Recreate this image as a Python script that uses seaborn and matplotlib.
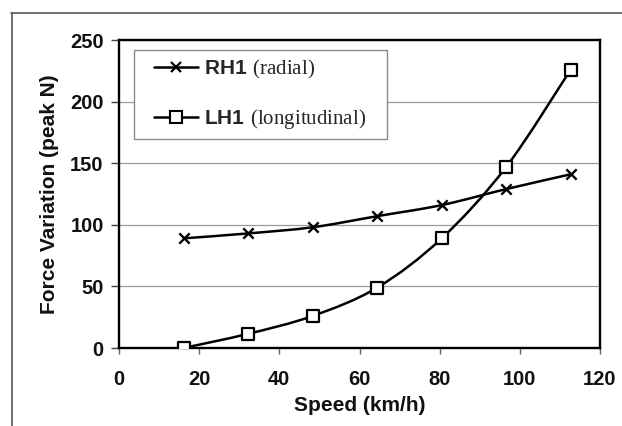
import numpy as np
import pandas as pd
import matplotlib
matplotlib.use("Agg")
import matplotlib.pyplot as plt
import seaborn as sns
from matplotlib.path import Path
from matplotlib.patches import PathPatch, Rectangle
from matplotlib.lines import Line2D

# Data
speed = [16.1, 32.2, 48.3, 64.4, 80.5, 96.6, 112.7]
rh1 = [89, 93, 98, 107, 116, 129, 141]
lh1 = [0, 11.5, 26, 49, 89, 147, 226]
xticks = [0, 20, 40, 60, 80, 100, 120]
yticks = [0, 50, 100, 150, 200, 250]
labels = [r'$\mathbf{RH1}\ \mathrm{(radial)}$', r'$\mathbf{LH1}\ \mathrm{(longitudinal)}$']

sns.set_style("ticks")
plt.rcParams['font.family'] = ['Liberation Sans', 'DejaVu Sans']
plt.rcParams['mathtext.fontset'] = 'custom'
plt.rcParams['mathtext.rm'] = 'Liberation Serif'
plt.rcParams['mathtext.bf'] = 'Liberation Sans:bold'

fig = plt.figure(figsize=(6.22, 4.26), dpi=100)
ax = fig.add_axes([119/622, 1-348/426, (600-119)/622, (348-40)/426])

df = pd.DataFrame({'speed': speed, 'rh1': rh1, 'lh1': lh1})


def smooth_path(xs, ys):
    # Excel-style smoothed line as cubic Bezier segments through the data points
    pts = np.column_stack([xs, ys]).astype(float)
    n = len(pts)
    verts = [pts[0]]
    codes = [Path.MOVETO]
    for i in range(n - 1):
        p0 = pts[i - 1] if i > 0 else pts[i]
        p1 = pts[i]
        p2 = pts[i + 1]
        p3 = pts[i + 2] if i + 2 < n else pts[i + 1]
        c1 = p1 + (p2 - p0) / 6.0
        c2 = p2 - (p3 - p1) / 6.0
        verts += [c1, c2, p2]
        codes += [Path.CURVE4] * 3
    return Path(np.array(verts), codes)


for col in ['rh1', 'lh1']:
    ax.add_patch(PathPatch(smooth_path(df['speed'], df[col]), fill=False,
                           edgecolor='black', lw=1.8, zorder=3))

sns.scatterplot(data=df, x='speed', y='rh1', marker='x', s=55, color='black',
                linewidth=1.7, ax=ax, zorder=4, legend=False)
sns.scatterplot(data=df, x='speed', y='lh1', marker='s', s=80, facecolor='white',
                edgecolor='black', linewidth=1.6, ax=ax, zorder=4, legend=False)

ax.set_xlim(0, 120)
ax.set_ylim(0, 250)
ax.set_xticks(xticks)
ax.set_yticks(yticks)
ax.yaxis.grid(True, color='#9a9a9a', lw=0.9)
ax.set_axisbelow(True)
for s in ax.spines.values():
    s.set_visible(True)
    s.set_color('black')
    s.set_linewidth(1.7)
ax.tick_params(axis='y', direction='out', length=6, width=1, color='#444',
               labelsize=14.5, pad=5)
ax.tick_params(axis='x', direction='out', length=4, width=1, color='#666',
               labelsize=14.5, pad=12)
for t in ax.get_xticklabels() + ax.get_yticklabels():
    t.set_fontweight('bold')
    t.set_color('#111')
ax.set_xlabel('Speed (km/h)', fontsize=15, fontweight='bold', labelpad=5, color='#111')
ax.set_ylabel('Force Variation (peak N)', fontsize=15, fontweight='bold', labelpad=8, color='#111')

# legend box
x0, x1 = (134-119)/481, (387-119)/481
yb, yt = (348-139)/308, (348-50)/308
ax.add_patch(Rectangle((x0, yb), x1-x0, yt-yb, transform=ax.transAxes,
                       facecolor='white', edgecolor='#8a8a8a', lw=1.0, zorder=5))

handles = [
    Line2D([], [], color='black', lw=1.8, marker='x', markersize=7, markeredgewidth=1.6),
    Line2D([], [], color='black', lw=1.8, marker='s', markersize=8, markerfacecolor='white',
           markeredgewidth=1.5),
]
leg = ax.legend(handles, labels, loc='center', bbox_to_anchor=((x0+x1)/2, (yb+yt)/2),
                borderaxespad=0, frameon=False, fontsize=15, handlelength=2.1,
                handletextpad=0.3, labelspacing=1.25, borderpad=0)
leg.set_zorder(6)

# outer frame lines
fig.add_artist(Line2D([11/622, 1], [1-13/426, 1-13/426], color='#555', lw=1.2,
                      transform=fig.transFigure))
fig.add_artist(Line2D([12/622, 12/622], [0, 1-13/426], color='#555', lw=1.2,
                      transform=fig.transFigure))

fig.savefig('out.png', dpi=100)
